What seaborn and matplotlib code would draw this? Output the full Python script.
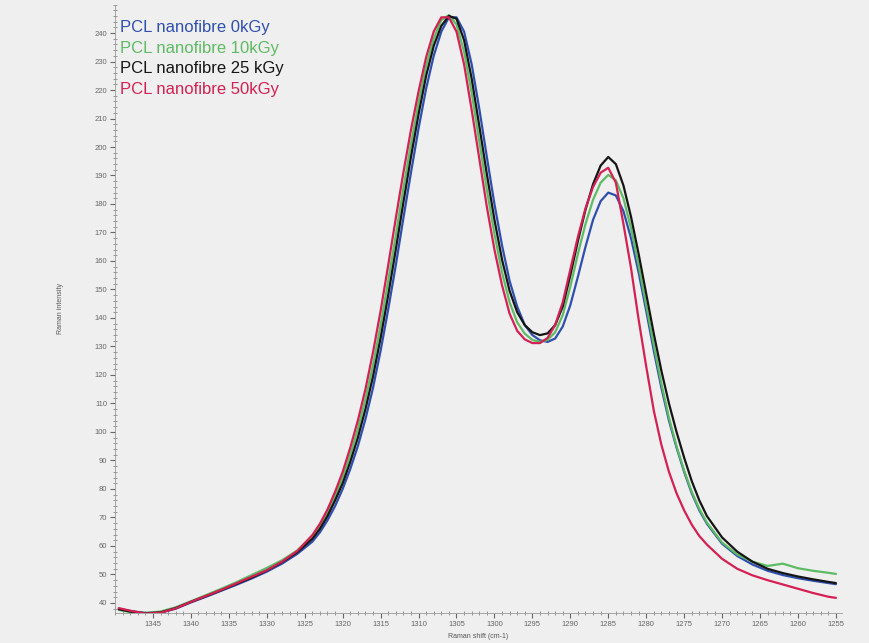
import matplotlib
matplotlib.use("Agg")
import matplotlib.pyplot as plt
import pandas as pd
import seaborn as sns
from matplotlib.ticker import MultipleLocator

# ---------------- data ----------------
raman_shift = [1349.5, 1348, 1346, 1344, 1342, 1340, 1338, 1336, 1334, 1332, 1330, 1328, 1326, 1324,
               1323, 1322, 1321, 1320, 1319, 1318, 1317, 1316, 1315, 1314, 1313, 1312, 1311, 1310,
               1309, 1308, 1307, 1306, 1305, 1304, 1303, 1302, 1301, 1300, 1299, 1298, 1297, 1296,
               1295, 1294, 1293, 1292, 1291, 1290, 1289, 1288, 1287, 1286, 1285, 1284, 1283, 1282,
               1281, 1280, 1279, 1278, 1277, 1276, 1275, 1274, 1273, 1272,
               1270, 1268, 1266, 1264, 1262, 1260, 1258, 1256, 1255]

int_0kGy = [38.0, 37.2, 36.5, 36.6, 38.0, 40.2, 42.2, 44.3, 46.4, 48.6, 51.0, 53.8, 57.2, 61.5,
            64.8, 69.0, 74.0, 80.0, 87.0, 95.0, 104.5, 115.5, 128.5, 143.0, 158.5, 175.0, 191.0, 206.5,
            220.5, 232.0, 240.5, 245.5, 245.5, 240.5, 229.0, 213.5, 196.5, 180.0, 165.5, 153.0, 144.0, 137.5,
            134.0, 132.2, 131.6, 132.8, 137.0, 144.5, 154.5, 165.0, 174.5, 181.0, 184.0, 183.0, 177.5, 168.0,
            156.0, 142.5, 128.5, 115.5, 104.0, 94.5, 86.0, 78.5, 72.5, 67.8,
            60.8, 56.5, 53.5, 51.3, 49.8, 48.7, 47.8, 47.0, 46.6]

int_10kGy = [37.6, 36.8, 36.5, 37.0, 38.5, 40.6, 42.8, 45.0, 47.3, 49.8, 52.3, 55.0, 58.4, 63.5,
             67.0, 71.8, 77.5, 84.0, 92.0, 101.0, 111.5, 123.5, 137.5, 153.0, 169.0, 185.5, 201.0, 215.5,
             228.5, 238.0, 244.5, 246.3, 243.0, 233.5, 219.0, 202.0, 185.0, 169.5, 156.0, 145.5, 138.5, 134.5,
             132.3, 131.6, 132.3, 135.0, 141.0, 151.0, 162.5, 173.0, 181.5, 187.5, 190.2, 188.3, 182.0, 171.5,
             158.5, 144.5, 130.5, 117.0, 105.0, 95.0, 86.5, 79.0, 73.0, 68.2,
             61.2, 57.0, 54.5, 53.0, 53.8, 52.2, 51.3, 50.6, 50.2]

int_25kGy = [37.8, 37.0, 36.4, 36.7, 38.2, 40.4, 42.4, 44.5, 46.7, 48.9, 51.4, 54.3, 57.8, 62.5,
             66.0, 70.5, 76.0, 82.0, 89.5, 98.0, 108.0, 119.5, 133.0, 148.0, 164.0, 180.5, 196.5, 211.5,
             225.0, 235.5, 242.5, 246.0, 245.0, 237.5, 224.0, 207.5, 190.5, 174.5, 160.5, 149.5, 142.0, 137.5,
             135.0, 134.0, 134.6, 137.5, 144.0, 155.0, 167.0, 178.0, 187.0, 193.5, 196.5, 194.0, 186.5, 175.5,
             162.5, 148.5, 134.5, 121.5, 110.0, 100.0, 91.0, 82.8, 76.0, 70.5,
             63.0, 58.0, 54.5, 52.0, 50.5, 49.3, 48.3, 47.4, 47.0]

int_50kGy = [38.2, 37.3, 36.3, 36.6, 38.1, 40.4, 42.5, 44.6, 46.9, 49.2, 51.5, 54.5, 58.2, 63.8,
             67.8, 72.8, 79.0, 86.0, 94.5, 104.0, 115.0, 128.0, 142.5, 158.5, 175.0, 191.0, 206.0, 219.5,
             231.5, 240.5, 245.5, 245.5, 240.5, 229.0, 213.0, 196.0, 179.0, 164.0, 151.5, 141.5, 135.5, 132.5,
             131.2, 131.2, 133.0, 137.5, 145.5, 157.0, 168.5, 178.5, 186.0, 191.0, 192.7, 187.5, 173.0, 157.5,
             139.5, 123.0, 107.5, 95.5, 86.0, 78.5, 72.5, 67.5, 63.5, 60.5,
             55.5, 52.0, 49.7, 48.0, 46.5, 45.0, 43.5, 42.2, 41.8]

series_labels = ["PCL nanofibre 0kGy", "PCL nanofibre 10kGy",
                 "PCL nanofibre 25 kGy", "PCL nanofibre 50kGy"]
series_colors = ["#2f4fae", "#5dbb63", "#151515", "#d42052"]

x_ticks = list(range(1345, 1254, -5))
y_ticks = list(range(40, 241, 10))

x_label = "Raman shift (cm-1)"
y_label = "Raman intensity"

# ---------------- long-form table ----------------
frames = []
for lab, vals in zip(series_labels, [int_0kGy, int_10kGy, int_25kGy, int_50kGy]):
    frames.append(pd.DataFrame({"shift": raman_shift, "intensity": vals, "series": lab}))
df = pd.concat(frames, ignore_index=True)

# ---------------- style ----------------
sns.set_theme(style="ticks")
bg = "#efefef"
plt.rcParams["font.family"] = ["Liberation Sans", "DejaVu Sans"]

fig = plt.figure(figsize=(8.7, 6.43), dpi=100, facecolor=bg)
ax = fig.add_axes([0.1322, 0.0467, 0.8356, 0.9463])
ax.set_facecolor(bg)

sns.lineplot(data=df, x="shift", y="intensity", hue="series", hue_order=series_labels,
             palette=dict(zip(series_labels, series_colors)), estimator=None, sort=False,
             linewidth=1.6, ax=ax)

ax.set_xlim(1350, 1254.2)
ax.set_ylim(36.5, 250)
ax.set_xticks(x_ticks)
ax.set_yticks(y_ticks)
ax.xaxis.set_minor_locator(MultipleLocator(1))
ax.yaxis.set_minor_locator(MultipleLocator(2))

tick_col = "#666666"
ax.tick_params(axis="both", which="major", direction="out", length=3.5, width=0.8,
               colors=tick_col, labelsize=5.5, pad=2)
ax.tick_params(axis="both", which="minor", direction="inout", length=3, width=0.6, colors="#888888")

for s in ["top", "right"]:
    ax.spines[s].set_visible(False)
for s in ["left", "bottom"]:
    ax.spines[s].set_color("#9a9a9a")
    ax.spines[s].set_linewidth(0.6)

ax.set_xlabel(x_label, fontsize=5, color="#555555", labelpad=4)
ax.set_ylabel(y_label, fontsize=5, color="#555555", labelpad=22)

leg = ax.legend(loc="upper left", bbox_to_anchor=(0.007, 0.975), frameon=False,
                handlelength=0, handletextpad=0, borderpad=0, borderaxespad=0,
                labelspacing=0.35, labelcolor="linecolor",
                prop={"family": "Liberation Sans", "size": 12})
for h in leg.legend_handles:
    h.set_visible(False)

fig.savefig("out.png", dpi=100, facecolor=bg)
